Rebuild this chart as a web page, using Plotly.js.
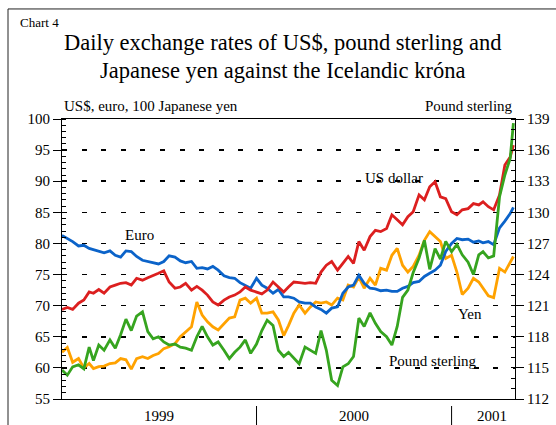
<!DOCTYPE html>
<html>
<head>
<meta charset="utf-8">
<script src="https://cdn.plot.ly/plotly-3.0.1.min.js"></script>
<style>html,body{margin:0;padding:0;background:#fff;}#chart{width:556px;height:425px;}</style>
</head>
<body>
<div id="chart"></div>
<script>
// Sample dates (roughly every 10 days)
const dates = [
 '1999-01-01','1999-01-11','1999-01-21','1999-02-01','1999-02-11','1999-02-21','1999-03-01','1999-03-11','1999-03-21',
 '1999-04-01','1999-04-11','1999-04-21','1999-05-01','1999-05-11','1999-05-21','1999-06-01','1999-06-11','1999-06-21',
 '1999-07-01','1999-07-11','1999-07-21','1999-08-01','1999-08-11','1999-08-21','1999-09-01','1999-09-11','1999-09-21',
 '1999-10-01','1999-10-11','1999-10-21','1999-11-01','1999-11-11','1999-11-21','1999-12-01','1999-12-11','1999-12-21',
 '2000-01-01','2000-01-11','2000-01-21','2000-02-01','2000-02-11','2000-02-21','2000-03-01','2000-03-11','2000-03-21',
 '2000-04-01','2000-04-11','2000-04-21','2000-05-01','2000-05-11','2000-05-21','2000-06-01','2000-06-11','2000-06-21',
 '2000-07-01','2000-07-11','2000-07-21','2000-08-01','2000-08-11','2000-08-21','2000-09-01','2000-09-11','2000-09-21',
 '2000-10-01','2000-10-11','2000-10-21','2000-11-01','2000-11-11','2000-11-21','2000-12-01','2000-12-11','2000-12-21',
 '2001-01-01','2001-01-11','2001-01-21','2001-02-01','2001-02-11','2001-02-21','2001-03-01','2001-03-11','2001-03-21',
 '2001-04-01','2001-04-11','2001-04-21','2001-04-27'
];

// Euro (left axis)
const euro = [
 81.3,80.8,80.3,79.6,79.7,79.2,79.0,78.8,78.5,78.8,78.1,77.8,78.8,78.7,77.9,77.3,77.1,76.8,
 76.7,77.1,78.0,77.8,77.2,76.9,77.1,76.0,76.1,75.9,76.3,75.7,74.8,74.5,74.4,73.7,73.3,72.8,
 74.4,73.3,72.8,72.0,72.6,71.4,71.4,71.2,70.6,70.4,70.4,69.8,69.4,68.8,69.6,69.8,72.0,73.0,
 73.3,74.9,73.6,72.8,72.7,72.4,72.5,72.3,72.3,72.8,73.1,73.7,73.9,74.7,75.2,75.7,76.5,78.7,
 80.0,80.8,80.6,80.7,80.2,80.4,80.1,80.3,79.8,82.5,83.6,84.8,85.8
];

// US dollar (left axis)
const usd = [
 69.4,69.7,69.4,70.4,70.9,72.2,72.0,72.6,72.0,73.0,73.3,73.6,73.7,73.3,74.4,74.1,74.5,74.8,
 75.2,75.6,73.8,72.8,73.0,73.6,72.5,73.1,72.5,71.7,70.6,70.1,70.9,71.4,71.7,72.2,73.0,72.5,
 72.2,71.9,72.5,73.8,73.0,72.2,73.0,73.8,73.7,73.6,73.7,73.6,75.4,76.5,77.1,75.7,76.8,77.9,
 76.8,80.3,78.9,81.1,82.1,81.9,82.4,84.6,83.8,83.0,84.3,85.1,87.8,87.0,89.1,89.9,87.5,87.2,
 85.1,84.6,85.4,85.6,86.4,86.2,86.7,85.9,85.4,87.8,92.6,93.9,95.8
];

// 100 Japanese yen (left axis)
const yen = [
 62.5,63.3,60.9,61.5,60.0,60.7,59.9,60.2,60.3,60.7,60.8,61.5,61.3,59.8,61.5,61.8,61.5,62.0,
 62.3,63.1,63.4,63.9,65.0,65.8,66.6,70.6,68.5,67.4,66.6,66.1,67.1,68.0,68.2,70.9,71.2,70.4,
 71.2,68.8,68.8,69.0,67.7,65.2,66.8,68.8,70.1,68.8,69.8,70.6,70.4,70.6,70.1,71.2,70.9,73.3,
 73.0,74.6,72.8,74.4,73.3,76.0,75.7,78.1,79.2,76.5,75.4,76.3,78.1,80.5,81.9,81.1,80.3,77.6,
 78.1,75.4,71.8,72.8,74.4,73.8,72.8,71.6,71.3,76.0,75.4,77.1,77.9
];

// Pound sterling (right axis)
const gbp = [
 114.8,114.3,115.1,115.3,114.9,117.0,115.7,117.2,116.7,117.7,116.9,118.2,119.7,118.6,120.0,120.4,118.5,117.8,
 118.0,117.5,117.2,117.3,117.0,116.9,116.7,118.0,119.0,118.0,117.2,117.5,116.7,115.9,116.5,117.0,117.7,116.4,
 117.3,118.6,119.6,119.1,116.7,116.1,116.5,115.9,115.4,117.0,116.7,116.4,118.6,116.7,113.8,113.3,115.1,115.4,
 116.1,119.8,119.0,120.3,119.3,118.5,118.0,117.2,119.0,121.8,122.5,124.2,125.6,127.3,124.5,126.5,125.5,127.2,
 126.2,126.9,125.9,125.2,124.0,125.9,126.2,125.6,125.8,131.5,133.6,135.2,138.6
];

const yearLabels = ['1999', '2000', '2001'];
const yearLabelDates = ['1999-07-02', '2000-07-01', '2001-03-18'];
const yearBreaks = ['2000-01-01', '2001-01-01'];

const FONT = 'Liberation Serif, Times New Roman, serif';

function line(name, y, color, axis) {
  return {type: 'scatter', mode: 'lines', name: name, x: dates, y: y, yaxis: axis,
          line: {color: color, width: 2.8}, hoverinfo: 'skip'};
}

const traces = [
  line('Yen', yen, '#ffa200', 'y'),
  line('Euro', euro, '#0b63c9', 'y'),
  line('US dollar', usd, '#dc1f1f', 'y'),
  line('Pound sterling', gbp, '#36a41f', 'y2')
];

const annotations = [
  {text: 'Chart 4', xref: 'paper', yref: 'paper', x: -0.097, y: 1.343, xanchor: 'left', yanchor: 'middle', showarrow: false, font: {family: FONT, size: 13, color: '#000'}},
  {text: 'Daily exchange rates of US$, pound sterling and', xref: 'paper', yref: 'paper', x: 0.486, y: 1.272, xanchor: 'center', yanchor: 'middle', showarrow: false, font: {family: FONT, size: 22.5, color: '#000'}},
  {text: 'Japanese yen against the Icelandic króna', xref: 'paper', yref: 'paper', x: 0.486, y: 1.172, xanchor: 'center', yanchor: 'middle', showarrow: false, font: {family: FONT, size: 22.5, color: '#000'}},
  {text: 'US$, euro, 100 Japanese yen', xref: 'paper', yref: 'paper', x: 0, y: 1.046, xanchor: 'left', yanchor: 'middle', showarrow: false, font: {family: FONT, size: 15, color: '#000'}},
  {text: 'Pound sterling', xref: 'paper', yref: 'paper', x: 1, y: 1.046, xanchor: 'right', yanchor: 'middle', showarrow: false, font: {family: FONT, size: 15, color: '#000'}},
  {text: 'Euro', xref: 'paper', yref: 'paper', x: 0.170, y: 0.586, xanchor: 'center', yanchor: 'middle', showarrow: false, font: {family: FONT, size: 15, color: '#000'}},
  {text: 'US dollar', xref: 'paper', yref: 'paper', x: 0.733, y: 0.789, xanchor: 'center', yanchor: 'middle', showarrow: false, font: {family: FONT, size: 15, color: '#000'}},
  {text: 'Yen', xref: 'paper', yref: 'paper', x: 0.901, y: 0.304, xanchor: 'center', yanchor: 'middle', showarrow: false, font: {family: FONT, size: 15, color: '#000'}},
  {text: 'Pound sterling', xref: 'paper', yref: 'paper', x: 0.819, y: 0.136, xanchor: 'center', yanchor: 'middle', showarrow: false, font: {family: FONT, size: 15, color: '#000'}}
];
yearLabels.forEach((t, i) => annotations.push({
  text: t, xref: 'x', yref: 'paper', x: yearLabelDates[i], y: -0.061, xanchor: 'center', yanchor: 'middle',
  showarrow: false, font: {family: FONT, size: 15, color: '#000'}
}));

const shapes = [
  {type: 'rect', xref: 'paper', yref: 'paper', x0: -0.1192, x1: 1.3, y0: -0.3, y1: 1.393, line: {color: '#222', width: 1}, fillcolor: 'rgba(0,0,0,0)', layer: 'below'}
];
yearBreaks.forEach(d => shapes.push({
  type: 'line', xref: 'x', yref: 'paper', x0: d, x1: d, y0: -0.025, y1: -0.12, line: {color: '#000', width: 1}
}));

const layout = {
  width: 556, height: 425,
  margin: {l: 62, r: 41, t: 119, b: 26, pad: 0},
  paper_bgcolor: '#fff', plot_bgcolor: '#fff',
  showlegend: false,
  font: {family: FONT, color: '#000'},
  xaxis: {
    type: 'date', range: ['1999-01-01', '2001-04-30'],
    showticklabels: false, ticks: '', showgrid: false, zeroline: false,
    showline: true, linecolor: '#000', linewidth: 1, mirror: true
  },
  yaxis: {
    range: [55, 100], tick0: 55, dtick: 5,
    ticks: 'outside', ticklen: 8, tickwidth: 1, tickcolor: '#000',
    showline: true, linecolor: '#000', linewidth: 1,
    showgrid: true, gridcolor: '#000', gridwidth: 1.6, griddash: '5px,14.6px',
    zeroline: false,
    tickfont: {family: FONT, size: 15, color: '#000'},
    minor: {ticks: 'inside', ticklen: 4, dtick: 1, tickcolor: '#000', showgrid: false}
  },
  yaxis2: {
    overlaying: 'y', side: 'right',
    range: [112, 139], tick0: 112, dtick: 3,
    ticks: 'outside', ticklen: 8, tickwidth: 1, tickcolor: '#000',
    showline: true, linecolor: '#000', linewidth: 1,
    showgrid: false, zeroline: false,
    tickfont: {family: FONT, size: 15, color: '#000'},
    minor: {ticks: 'inside', ticklen: 4, dtick: 1, tickcolor: '#000', showgrid: false}
  },
  annotations: annotations,
  shapes: shapes
};

Plotly.newPlot('chart', traces, layout, {staticPlot: true, displayModeBar: false});
</script>
</body>
</html>
